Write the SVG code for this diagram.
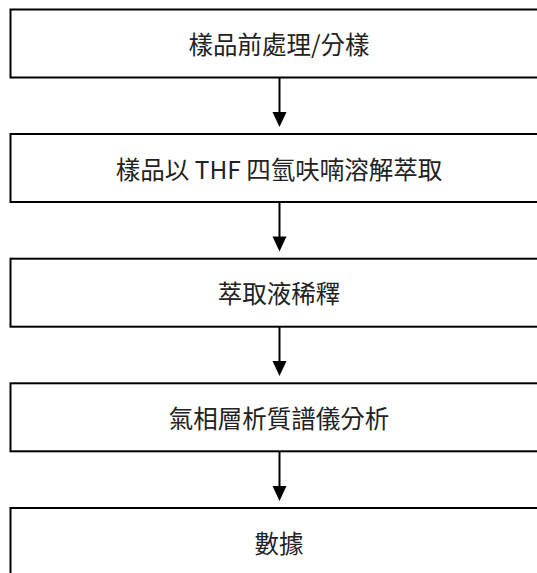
<svg xmlns="http://www.w3.org/2000/svg" width="537" height="573" viewBox="0 0 537 573">
<style>
.box{fill:#fff;stroke:#000;stroke-width:2}
.lbl{font-family:"Noto Sans CJK TC","Noto Sans CJK SC",sans-serif;font-size:24.5px;fill:#222;text-anchor:middle;dominant-baseline:central}
.conn{stroke:#000;stroke-width:2;fill:none}
.head{fill:#000}
</style>
<rect x="0" y="0" width="537" height="573" fill="#fff"/>
<g id="n1"><rect class="box" x="10.5" y="9.5" width="538" height="68"/><text class="lbl" x="279" y="43.5">樣品前處理/分樣</text></g>
<g id="n2"><rect class="box" x="10.5" y="134" width="538" height="68"/><text class="lbl" x="279" y="168">樣品以 THF 四氫呋喃溶解萃取</text></g>
<g id="n3"><rect class="box" x="10.5" y="258.7" width="538" height="68"/><text class="lbl" x="279" y="292.7">萃取液稀釋</text></g>
<g id="n4"><rect class="box" x="10.5" y="383.3" width="538" height="68"/><text class="lbl" x="279" y="417.3">氣相層析質譜儀分析</text></g>
<g id="n5"><rect class="box" x="10.5" y="508" width="538" height="68"/><text class="lbl" x="279" y="542">數據</text></g>
<g id="connectors">
<line class="conn" x1="279.5" y1="77.5" x2="279.5" y2="113"/><polygon class="head" points="272.5,112 286.5,112 279.5,127"/>
<line class="conn" x1="279.5" y1="202" x2="279.5" y2="237.5"/><polygon class="head" points="272.5,236.5 286.5,236.5 279.5,251.5"/>
<line class="conn" x1="279.5" y1="326.7" x2="279.5" y2="362"/><polygon class="head" points="272.5,361 286.5,361 279.5,376"/>
<line class="conn" x1="279.5" y1="451.3" x2="279.5" y2="487"/><polygon class="head" points="272.5,486 286.5,486 279.5,501"/>
</g>
</svg>
